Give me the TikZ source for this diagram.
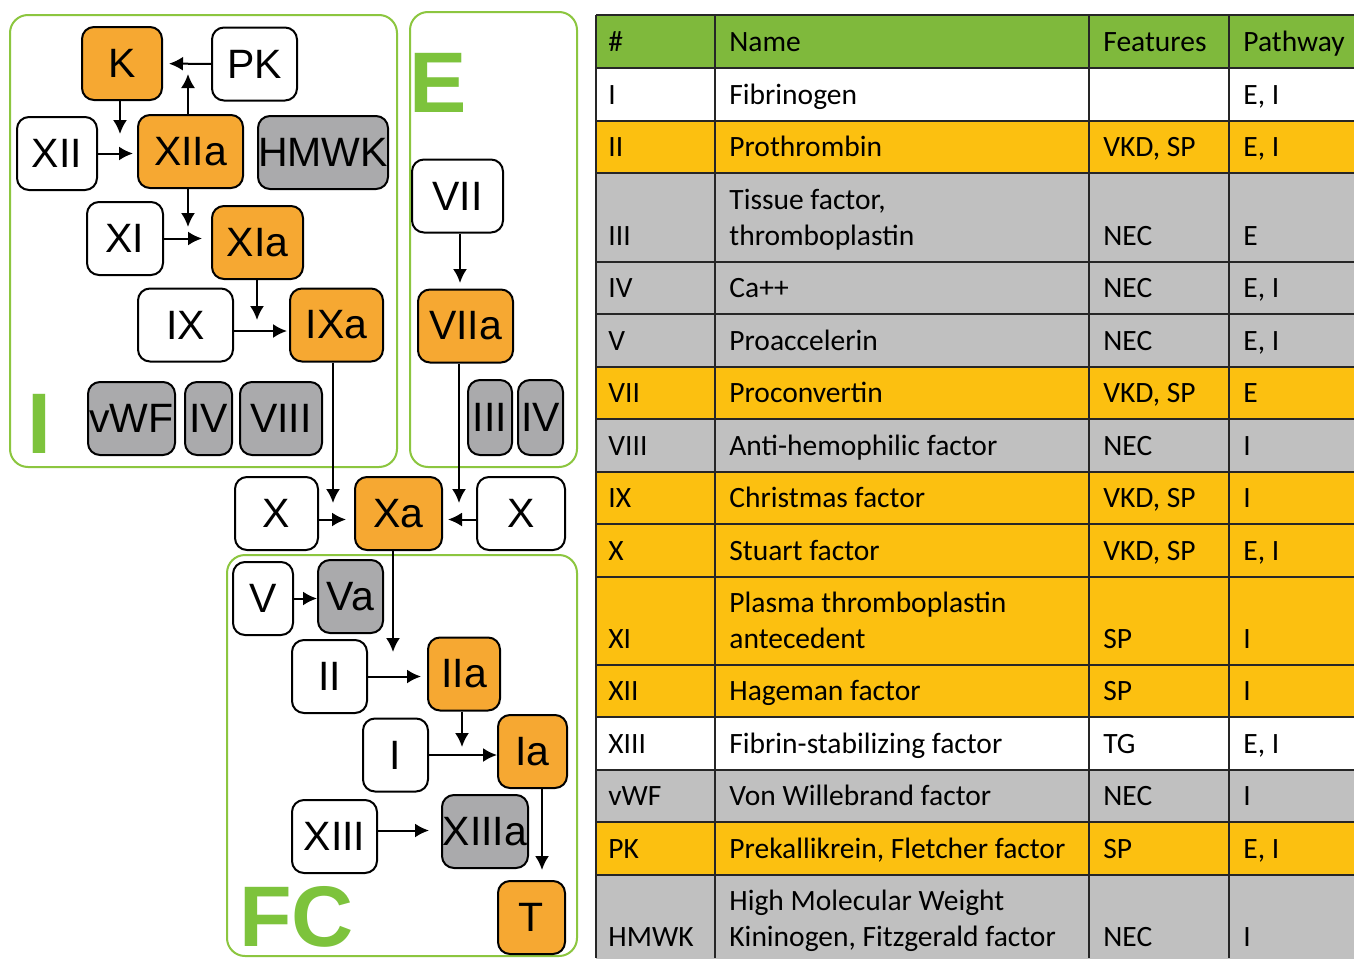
\documentclass[tikz,border=0pt]{standalone}
\usepackage{fontspec}
\setmainfont{Liberation Sans}
\newfontfamily\tabfont{Carlito}
\usetikzlibrary{arrows.meta}
\definecolor{actorange}{RGB}{246,168,50}
\definecolor{cofgray}{RGB}{170,170,172}
\definecolor{panelgreen}{RGB}{140,198,63}
\definecolor{lettergreen}{RGB}{125,195,60}
\definecolor{headgreen}{RGB}{127,185,60}
\definecolor{rowyellow}{RGB}{252,192,16}
\definecolor{rowgray}{RGB}{192,192,192}
\begin{document}
\begin{tikzpicture}[x=0.5pt, y=-0.5pt, >={Latex[length=7pt,width=7pt]},
  fac/.style={draw, line width=1pt, rounded corners=6pt, fill=white,
    minimum height=36.5pt, inner sep=0pt, font=\fontsize{20.5}{23}\selectfont},
  act/.style={fac, fill=actorange},
  cof/.style={fac, fill=cofgray},
  boxw/.style={minimum width=#1*0.5pt},
  panel/.style={draw=panelgreen, line width=1pt, rounded corners=9pt},
  big/.style={text=lettergreen, anchor=base west, inner sep=0pt, text depth=0pt,
    font=\fontsize{43}{43}\selectfont\bfseries},
  link/.style={->, line width=1pt},
  rule/.style={line width=1pt, black!85},
  cell/.style={anchor=base west, inner sep=0pt,
    font=\tabfont\fontsize{14.75}{18}\selectfont}]
\fill[white] (0,0) rectangle (1354,958);
% Panels
\draw[panel] (10,15) rectangle (397,467);
\draw[panel] (410,12) rectangle (577,467);
\draw[panel] (227,555) rectangle (577,956);
\node[big] (lblI) at (27,453) {I};
\node[big] (lblE) at (409,112) {E};
\node[big] (lblFC) at (239,946) {FC};
% Intrinsic
\node[act, boxw=80] (fK) at (122,63.5) {K};
\node[fac, boxw=85] (fPK) at (254.5,64) {PK};
\node[fac, boxw=80] (fXII) at (57,153.5) {XII};
\node[act, boxw=105] (fXIIa) at (190.5,151.5) {XIIa};
\node[cof, boxw=130] (fHMWK) at (323,152.5) {HMWK};
\node[fac, boxw=76] (fXI) at (125,238.5) {XI};
\node[act, boxw=91] (fXIa) at (257.5,242.5) {XIa};
\node[fac, boxw=95] (fIX) at (185.5,325) {IX};
\node[act, boxw=93] (fIXa) at (336.5,325) {IXa};
\node[cof, boxw=87] (fvWF) at (131.5,418.5) {vWF};
\node[cof, boxw=47] (fIVi) at (208.5,418.5) {IV};
\node[cof, boxw=82] (fVIII) at (281,418.5) {VIII};
% Extrinsic
\node[fac, boxw=91] (fVII) at (457.5,196) {VII};
\node[act, boxw=95] (fVIIa) at (465.5,326) {VIIa};
\node[cof, boxw=44, minimum height=37.5pt] (fIII) at (490,417.5) {III};
\node[cof, boxw=45, minimum height=37.5pt] (fIVe) at (540.5,417.5) {IV};
% Common
\node[fac, boxw=83] (fXl) at (276.5,513.5) {X};
\node[act, boxw=87] (fXa) at (398.5,513.5) {Xa};
\node[fac, boxw=88] (fXr) at (521,513.5) {X};
\node[fac, boxw=60] (fV) at (263,598.5) {V};
\node[cof, boxw=65] (fVa) at (350.5,596.5) {Va};
\node[fac, boxw=75] (fII) at (329.5,676.5) {II};
\node[act, boxw=72] (fIIa) at (464,674) {IIa};
\node[fac, boxw=65] (fI) at (395.5,755) {I};
\node[act, boxw=69] (fIa) at (532.5,751.5) {Ia};
\node[fac, boxw=85] (fXIII) at (334.5,836.5) {XIII};
\node[cof, boxw=86] (fXIIIa) at (485,831.5) {XIIIa};
\node[act, boxw=67] (fT) at (531.5,917.5) {T};
% Arrows
\coordinate (kdown) at (120,134);
\coordinate (xiiaup) at (188,74);
\coordinate (xiiadown) at (188,227);
\coordinate (xiadown) at (257,320);
\coordinate (ixadown) at (333,503);
\coordinate (viidown) at (460,283);
\coordinate (viiadown) at (459,503);
\coordinate (xadown) at (393,652);
\coordinate (iiadown) at (462,747);
\coordinate (tin) at (542,870);
\draw[link, shorten >=3pt] (fPK) -- (fK);
\draw[link] (xiiaup |- fXIIa.north) -- (xiiaup);
\draw[link] (kdown |- fK.south) -- (kdown);
\draw[link, shorten >=2pt] (fXII) -- (fXII -| fXIIa.west);
\draw[link] (xiiadown |- fXIIa.south) -- (xiiadown);
\draw[link, shorten >=4.5pt] (fXI) -- (fXI -| fXIa.west);
\draw[link] (xiadown |- fXIa.south) -- (xiadown);
\draw[link, shorten >=1pt] ([yshift=-3pt]fIX.east) -- ([yshift=-3pt]fIX.east -| fIXa.west);
\draw[link] (ixadown |- fIXa.south) -- (ixadown);
\draw[link] (viidown |- fVII.south) -- (viidown);
\draw[link] (viiadown |- fVIIa.south) -- (viiadown);
\draw[link, shorten >=4pt] ([yshift=-3pt]fXl.east) -- ([yshift=-3pt]fXl.east -| fXa.west);
\draw[link, shorten >=2.5pt] ([yshift=-3pt]fXr.west) -- ([yshift=-3pt]fXr.west -| fXa.east);
\draw[link] (xadown |- fXa.south) -- (xadown);
\draw[link] (fV) -- (fV -| fVa.west);
\draw[link, shorten >=3pt] (fII) -- (fII -| fIIa.west);
\draw[link] (iiadown |- fIIa.south) -- (iiadown);
\draw[link] (fI) -- (fI -| fIa.west);
\draw[link, shorten >=6pt] ([yshift=3pt]fXIII.east) -- ([yshift=3pt]fXIII.east -| fXIIIa.west);
\draw[link] (tin |- fIa.south) -- (tin);
% Table
\begin{scope}
\clip (0,0) rectangle (1354,958);
\fill[headgreen] (596,15) rectangle (1354,68);
\foreach \lab/\x in {\#/608, Name/729, Features/1103, Pathway/1243}
  \node[cell] (h\x) at (\x,51.5) {\lab};
\foreach \ya/\yb/\col/\num/\nameA/\nameB/\feat/\pw [count=\rn] in {
  68/121/white/I/{}/Fibrinogen/{}/{E, I},
  121/173/rowyellow/II/{}/Prothrombin/{VKD, SP}/{E, I},
  173/262/rowgray/III/{Tissue factor,}/thromboplastin/NEC/E,
  262/314/rowgray/IV/{}/Ca++/NEC/{E, I},
  314/367/rowgray/V/{}/Proaccelerin/NEC/{E, I},
  367/419/rowyellow/VII/{}/Proconvertin/{VKD, SP}/E,
  419/472/rowgray/VIII/{}/Anti-hemophilic factor/NEC/I,
  472/524/rowyellow/IX/{}/Christmas factor/{VKD, SP}/I,
  524/577/rowyellow/X/{}/Stuart factor/{VKD, SP}/{E, I},
  577/665/rowyellow/XI/Plasma thromboplastin/antecedent/SP/I,
  665/717/rowyellow/XII/{}/Hageman factor/SP/I,
  717/770/white/XIII/{}/Fibrin-stabilizing factor/TG/{E, I},
  770/822/rowgray/vWF/{}/Von Willebrand factor/NEC/I,
  822/875/rowyellow/PK/{}/{Prekallikrein, Fletcher factor}/SP/{E, I},
  875/963/rowgray/HMWK/High Molecular Weight/{Kininogen, Fitzgerald factor}/NEC/I} {
  \fill[\col] (596,\ya) rectangle (1354,\yb);
  \node[cell] (num\rn) at (608,\yb-16.5) {\num};
  \node[cell] (nma\rn) at (729,\yb-53) {\nameA};
  \node[cell] (nmb\rn) at (729,\yb-16.5) {\nameB};
  \node[cell] (ft\rn) at (1103,\yb-16.5) {\feat};
  \node[cell] (pw\rn) at (1243,\yb-16.5) {\pw};
}
\foreach \y in {15,68,121,173,262,314,367,419,472,524,577,665,717,770,822,875}
  \draw[rule] (596,\y) -- (1354,\y);
\foreach \x in {596,715,1089,1229}
  \draw[rule] (\x,15) -- (\x,958);
\end{scope}
\end{tikzpicture}
\end{document}
